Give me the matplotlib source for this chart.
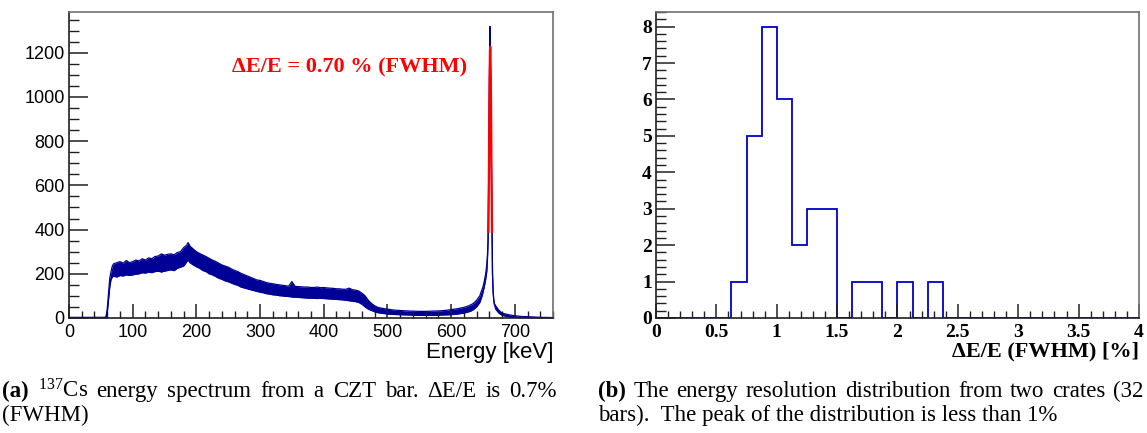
import numpy as np
import matplotlib
matplotlib.use("Agg")
from matplotlib import pyplot as plt
from matplotlib.ticker import MultipleLocator

# 137Cs spectrum: lower / upper edge of the noisy band
energy = [0, 55, 58, 60, 62, 64, 66, 68, 70, 75,
          80, 85, 90, 95, 100, 105, 110, 115, 120, 125,
          130, 135, 140, 145, 150, 155, 160, 165, 170, 175,
          180, 185, 187, 190, 195, 200, 205, 210, 215, 220,
          225, 230, 235, 240, 245, 250, 255, 260, 265, 270,
          275, 280, 285, 290, 295, 300, 305, 310, 315, 320,
          325, 330, 335, 340, 345, 350, 355, 360, 365, 370,
          375, 380, 385, 390, 395, 400, 405, 410, 415, 420,
          425, 430, 435, 440, 445, 450, 455, 460, 465, 470,
          475, 480, 485, 490, 495, 500, 510, 520, 530, 540,
          550, 560, 570, 580, 590, 600, 610, 620, 625, 630,
          635, 640, 645, 648, 650, 652, 654, 656, 657, 658,
          658.5, 659, 659.5, 660, 660.5, 661, 661.5, 662, 662.5, 663,
          663.5, 664, 664.5, 665, 666, 667, 668, 670, 675, 680,
          690, 700, 710, 720, 740, 760]
counts_lo = [0, 0, 0, 20, 80, 140, 175, 185, 190, 185,
             192, 190, 195, 192, 195, 198, 200, 205, 203, 208,
             205, 210, 212, 208, 212, 215, 218, 214, 225, 230,
             235, 255, 262, 250, 240, 232, 225, 215, 210, 200,
             195, 188, 180, 175, 168, 164, 158, 152, 148, 140,
             136, 132, 128, 124, 120, 117, 114, 110, 108, 105,
             104, 101, 100, 98, 97, 95, 94, 93, 92, 91,
             90, 90, 89, 88, 89, 88, 87, 86, 85, 84,
             83, 82, 80, 78, 76, 74, 70, 62, 50, 40,
             34, 28, 24, 22, 20, 18, 16, 15, 14, 13,
             12, 12, 12, 13, 14, 15, 18, 22, 26, 30,
             38, 50, 70, 95, 115, 140, 170, 210, 260, 340,
             450, 600, 800, 1000, 1150, 1318, 1200, 1050, 900, 760,
             600, 430, 300, 200, 120, 80, 60, 40, 22, 12,
             5, 3, 1, 1, 0, 0]
counts_hi = [3, 3, 4, 40, 110, 180, 210, 235, 245, 250,
             255, 248, 260, 250, 255, 262, 258, 268, 262, 272,
             268, 278, 280, 290, 284, 288, 290, 286, 296, 300,
             318, 330, 341, 325, 312, 300, 292, 285, 278, 270,
             262, 256, 248, 240, 235, 230, 222, 215, 210, 202,
             196, 190, 184, 178, 172, 170, 165, 160, 157, 155,
             152, 150, 148, 146, 144, 165, 143, 142, 141, 140,
             140, 138, 138, 140, 137, 138, 136, 135, 134, 132,
             132, 130, 130, 135, 128, 126, 122, 112, 100, 80,
             66, 55, 48, 45, 42, 40, 36, 34, 32, 31,
             30, 30, 31, 32, 34, 38, 42, 48, 52, 58,
             66, 80, 100, 125, 140, 165, 195, 240, 280, 345,
             450, 600, 800, 1000, 1150, 1318, 1200, 1050, 900, 760,
             600, 430, 300, 200, 120, 80, 65, 55, 35, 22,
             15, 10, 7, 6, 3, 2]

# gaussian fit over the photopeak (red)
fit_energy = [658.6, 659.2, 659.8, 660.4, 661.0, 661.4, 661.8, 662.4, 663.0,
              663.6, 664.2]
fit_counts = [390, 600, 850, 1080, 1210, 1227, 1210, 1080, 850, 600, 390]

# energy resolution distribution, 32 bins from 0 to 4 %
res_counts = [0, 0, 0, 0, 0, 1, 5, 8, 6, 2, 3, 3, 0, 1, 1, 0,
              1, 0, 1, 0, 0, 0, 0, 0, 0, 0, 0, 0, 0, 0, 0, 0]
res_range = (0, 4)

navy = "#000096"
blue = "#0000c8"

plt.rcParams["mathtext.fontset"] = "custom"
plt.rcParams["mathtext.rm"] = "Liberation Serif"
plt.rcParams["mathtext.it"] = "Liberation Serif:italic"
plt.rcParams["mathtext.bf"] = "Liberation Serif:bold"

fig = plt.figure(figsize=(11.47, 4.33), dpi=100)
W, H = 1147, 433


def frame(ax):
    for s in ("top", "right"):
        ax.spines[s].set_color("#707070")
        ax.spines[s].set_linewidth(1.2)
    for s in ("left", "bottom"):
        ax.spines[s].set_color("#202020")
        ax.spines[s].set_linewidth(1.2)
    ax.tick_params(which="both", direction="in", top=False, right=False,
                   color="#202020")
    ax.tick_params(axis="x", which="major", length=10, width=1.1, pad=4)
    ax.tick_params(axis="x", which="minor", length=5, width=1.0)
    ax.tick_params(axis="y", which="major", length=14, width=1.1, pad=3)
    ax.tick_params(axis="y", which="minor", length=7, width=1.0)


# ---- (a) spectrum
ax1 = fig.add_axes([69 / W, 1 - 318 / H, 484 / W, 306 / H])
ax1.fill_between(energy, counts_lo, counts_hi, color=navy, lw=0)
ax1.plot(energy, counts_lo, color=navy, lw=0.9)
ax1.plot(energy, counts_hi, color=navy, lw=0.9)
ax1.plot(fit_energy, fit_counts, color="#ff0000", lw=1.6)
ax1.set_xlim(0, 760)
ax1.set_ylim(0, 1384)
ax1.xaxis.set_major_locator(MultipleLocator(100))
ax1.xaxis.set_minor_locator(MultipleLocator(20))
ax1.yaxis.set_major_locator(MultipleLocator(200))
ax1.yaxis.set_minor_locator(MultipleLocator(50))
frame(ax1)
for lab in ax1.get_xticklabels() + ax1.get_yticklabels():
    lab.set_family("Liberation Sans")
    lab.set_fontsize(13)
ax1.set_xlabel("Energy [keV]", family="Liberation Sans", fontsize=16,
               loc="right", labelpad=1)
ax1.text(256, 1135, "\u0394E/E = 0.70 % (FWHM)", color="#ff0000",
         family="Liberation Serif", weight="bold", fontsize=16,
         ha="left", va="center")

# ---- (b) resolution histogram
ax2 = fig.add_axes([656 / W, 1 - 318 / H, 483 / W, 306 / H])
edges = np.linspace(res_range[0], res_range[1], len(res_counts) + 1)
ax2.stairs(res_counts, edges, color=blue, lw=1.3)
ax2.set_xlim(*res_range)
ax2.set_ylim(0, 8.4)
ax2.xaxis.set_major_locator(MultipleLocator(0.5))
ax2.xaxis.set_minor_locator(MultipleLocator(0.1))
ax2.yaxis.set_major_locator(MultipleLocator(1))
ax2.yaxis.set_minor_locator(MultipleLocator(0.2))
frame(ax2)
ax2.set_xticks([0, 0.5, 1, 1.5, 2, 2.5, 3, 3.5, 4])
ax2.set_xticklabels(["0", "0.5", "1", "1.5", "2", "2.5", "3", "3.5", "4"])
for lab in ax2.get_xticklabels() + ax2.get_yticklabels():
    lab.set_family("Liberation Serif")
    lab.set_weight("bold")
    lab.set_fontsize(14)
ax2.set_xlabel("\u0394E/E (FWHM) [%]", family="Liberation Serif",
               weight="bold", fontsize=16, loc="right", labelpad=1)

# ---- captions (first lines justified like the LaTeX original)
cap = fig.add_axes([0, 0, 1, 1], zorder=-1)
cap.axis("off")
cap.set_xlim(0, W)
cap.set_ylim(H, 0)
CAP_FS = 16.5
renderer = fig.canvas.get_renderer()


def caption_line(x0, y, tokens, x1=None):
    texts = [cap.text(0, y, s, weight=w, family="Liberation Serif",
                      fontsize=CAP_FS, va="baseline") for s, w in tokens]
    widths = [t.get_window_extent(renderer).width for t in texts]
    if x1 is None:
        gap = 0.25 * CAP_FS * 100 / 72
    else:
        gap = (x1 - x0 - sum(widths)) / (len(texts) - 1)
    x = x0
    for t, w in zip(texts, widths):
        t.set_x(x)
        x += w + gap


caption_line(2, 397, [("(a)", "bold"), (r"$^{137}$Cs", "normal")]
             + [(s, "normal") for s in
                "energy spectrum from a CZT bar. \u0394E/E is 0.7%".split()],
             x1=557)
caption_line(2, 421, [("(FWHM)", "normal")])
caption_line(598, 397, [("(b)", "bold")]
             + [(s, "normal") for s in
                "The energy resolution distribution from two crates (32".split()],
             x1=1143)
cap.text(598, 421, "bars).  The peak of the distribution is less than 1%",
         family="Liberation Serif", fontsize=CAP_FS, va="baseline")

fig.savefig("out.png", dpi=100)
